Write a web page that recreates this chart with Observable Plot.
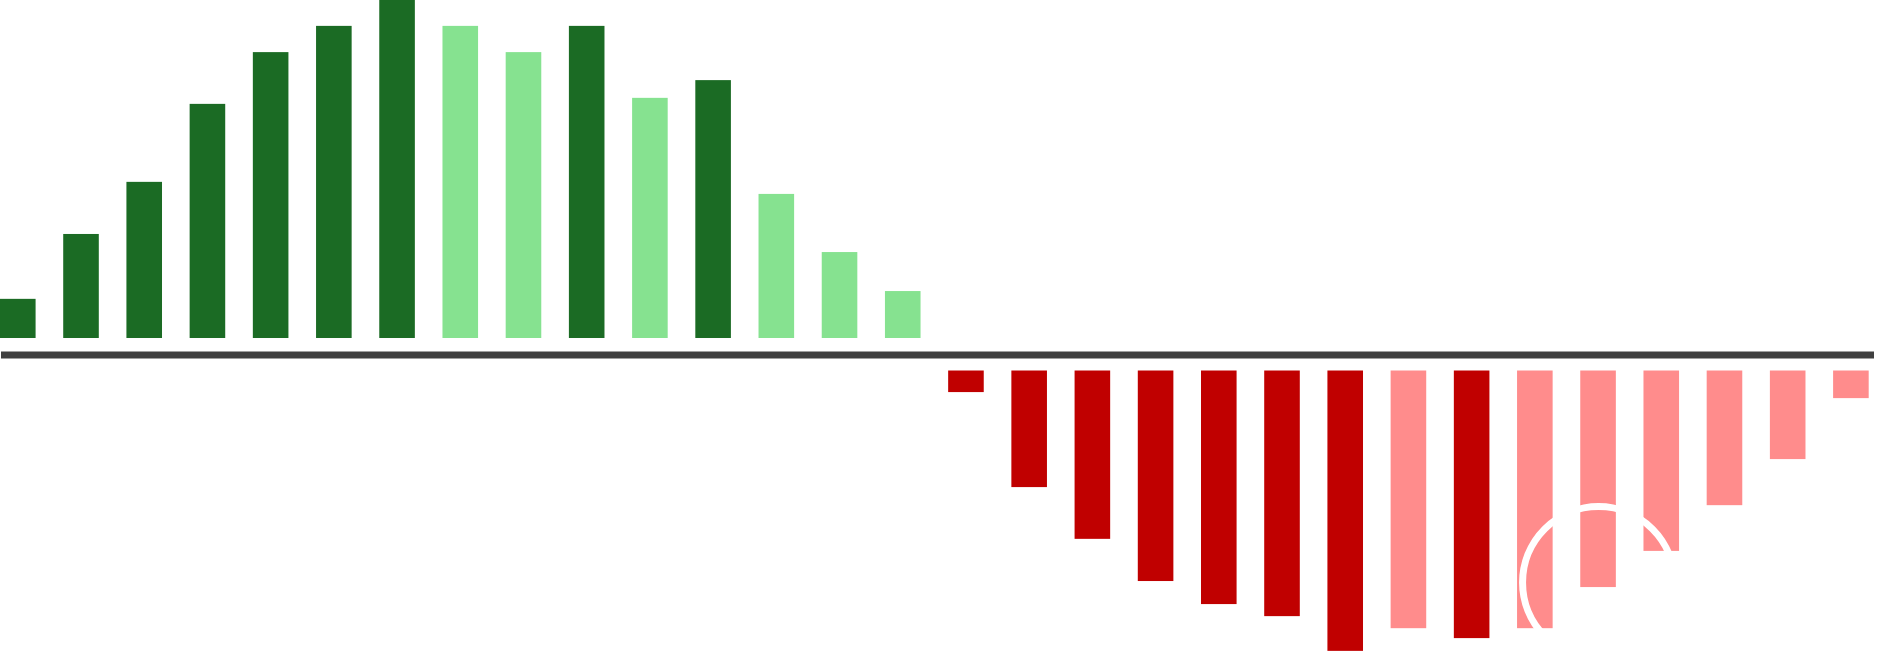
<!DOCTYPE html>
<html>
<head>
<meta charset="utf-8">
<script src="https://cdn.jsdelivr.net/npm/d3@7"></script>
<script src="https://cdn.jsdelivr.net/npm/@observablehq/plot@0.6"></script>
<style>
  html, body { margin: 0; padding: 0; background: #fff; overflow: hidden; }
  svg { display: block; }
</style>
</head>
<body>
<div id="chart"></div>
<script>
// Categories (one per bar, no visible labels in the reference)
const periods = ["1","2","3","4","5","6","7","8","9","10","11","12","13","14","15",
                 "16","17","18","19","20","21","22","23","24","25","26","27","28","29","30"];

// Bar values (positive = gains, negative = losses)
const values = [15.7, 34.0, 48.7, 70.7, 85.3, 92.7, 100, 92.7, 85.3, 92.7, 72.4, 77.4, 45.3, 28.9, 17.9,
                -10.6, -37.4, -52.0, -63.9, -70.4, -73.8, -83.6, -77.2, -80.0, -77.2, -65.6, -55.4, -42.5, -29.5, -12.3];

// Shade of each bar
const shades = ["dark","dark","dark","dark","dark","dark","dark","light","light","dark","light","dark","light","light","light",
                "dark","dark","dark","dark","dark","dark","dark","light","dark","light","light","light","light","light","light"];

// Highlight ring
const ringPeriods = ["26"];
const ringValues = [-64.2];

// Colours
const colorKeys = ["pos-dark", "pos-light", "neg-dark", "neg-light"];
const colorValues = ["#1b6b24", "#86e290", "#c00000", "#ff8c8c"];

const rows = periods.map((p, i) => ({
  period: p,
  value: values[i],
  kind: (values[i] >= 0 ? "pos-" : "neg-") + shades[i]
}));
const pos = rows.filter(d => d.value >= 0);
const neg = rows.filter(d => d.value < 0);
const ring = ringPeriods.map((p, i) => ({period: p, value: ringValues[i]}));

const chart = Plot.plot({
  width: 1878,
  height: 662,
  marginTop: 0,
  marginBottom: 0,
  marginLeft: 0,
  marginRight: 4,
  x: {type: "band", domain: periods, paddingInner: 0.437, paddingOuter: 0.042, align: 0, round: false, axis: null},
  y: {domain: [-86.74, 100], axis: null},
  color: {domain: colorKeys, range: colorValues},
  marks: [
    Plot.barY(pos, {x: "period", y: "value", fill: "kind", insetBottom: 16.5}),
    Plot.barY(neg, {x: "period", y: "value", fill: "kind", insetTop: 16}),
    Plot.ruleY([0], {stroke: "#404040", strokeWidth: 7, insetLeft: 1}),
    Plot.dot(ring, {x: "period", y: "value", r: 76, stroke: "#ffffff", strokeWidth: 7, fill: "none"})
  ]
});
document.getElementById("chart").appendChild(chart);
</script>
</body>
</html>
